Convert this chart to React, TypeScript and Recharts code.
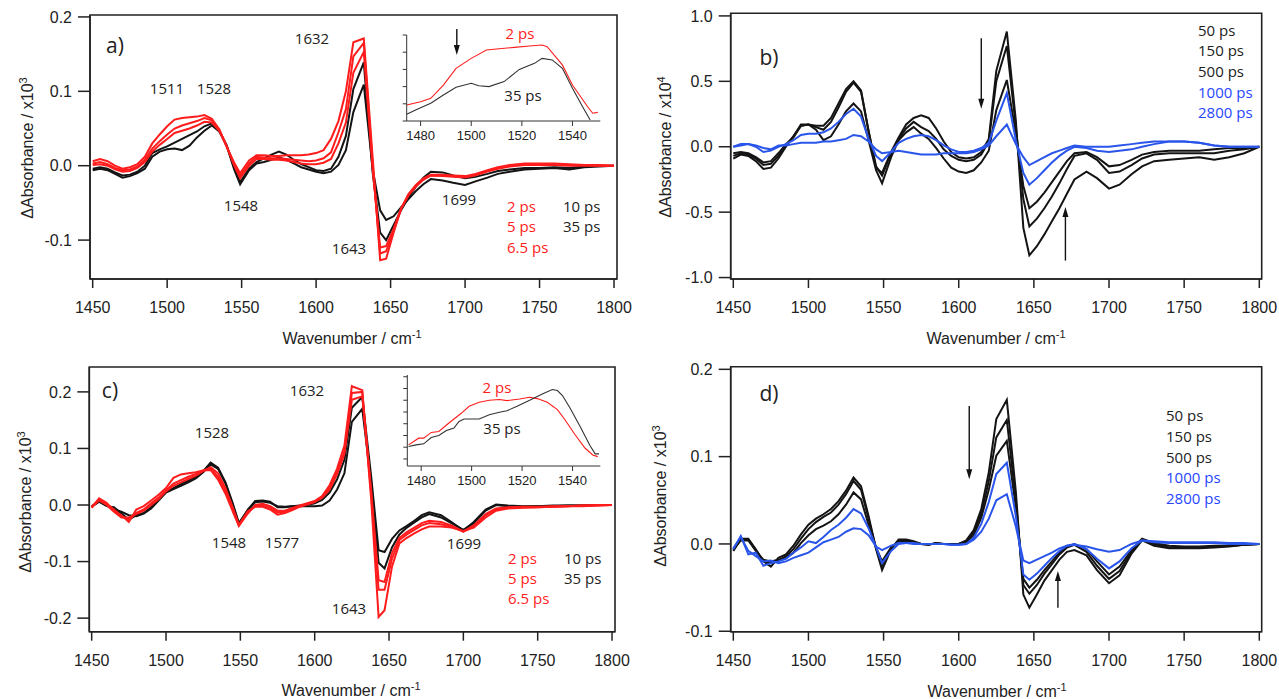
import React from 'react';
import { LineChart, Line, XAxis, YAxis, ReferenceArea, ReferenceLine } from 'recharts';

// ---------- shared axis values ----------
const wavenumbers = [
  1450, 1455, 1460, 1465, 1470, 1475, 1480, 1485, 1490, 1495,
  1500, 1505, 1510, 1515, 1520, 1525, 1530, 1535, 1540, 1545,
  1549, 1555, 1560, 1565, 1570, 1575, 1580, 1585, 1590, 1595,
  1600, 1605, 1610, 1615, 1620, 1625, 1632, 1638, 1643, 1647,
  1652, 1657, 1662, 1667, 1672, 1677, 1685, 1692, 1700, 1707,
  1715, 1722, 1730, 1740, 1750, 1760, 1770, 1780, 1790, 1800,
];
const xTicks = [1450, 1500, 1550, 1600, 1650, 1700, 1750, 1800];
const insetXTicks = [1480, 1500, 1520, 1540];
const earlyDelays = ['2 ps', '5 ps', '6.5 ps', '10 ps', '35 ps'];
const lateDelays = ['50 ps', '150 ps', '500 ps', '1000 ps', '2800 ps'];

// ---------- panel a (x10^3) ----------
const a2ps = [0.006, 0.009, 0.006, 0.0, -0.004, -0.002, 0.002, 0.012, 0.03, 0.042,
  0.053, 0.062, 0.064, 0.065, 0.066, 0.068, 0.063, 0.049, 0.025, 0.004,
  -0.01, 0.007, 0.014, 0.014, 0.013, 0.013, 0.014, 0.014, 0.014, 0.015,
  0.017, 0.021, 0.036, 0.06, 0.1, 0.166, 0.171, 0.01, -0.127, -0.125,
  -0.09, -0.058, -0.038, -0.026, -0.017, -0.012, -0.012, -0.013, -0.014, -0.011,
  -0.006, -0.002, 0.001, 0.003, 0.003, 0.003, 0.002, 0.001, 0.001, 0.0];
const a5ps = [0.003, 0.005, 0.002, -0.003, -0.006, -0.005, -0.001, 0.008, 0.023, 0.033,
  0.042, 0.05, 0.054, 0.057, 0.06, 0.064, 0.061, 0.048, 0.026, 0.002,
  -0.014, 0.003, 0.012, 0.011, 0.01, 0.01, 0.009, 0.008, 0.007, 0.006,
  0.007, 0.01, 0.018, 0.045, 0.076, 0.147, 0.165, 0.0, -0.118, -0.115,
  -0.088, -0.058, -0.039, -0.027, -0.018, -0.013, -0.013, -0.014, -0.015, -0.012,
  -0.007, -0.003, 0.0, 0.002, 0.002, 0.002, 0.001, 0.001, 0.0, 0.0];
const a6p5ps = [0.001, 0.002, 0.0, -0.005, -0.008, -0.007, -0.003, 0.005, 0.019, 0.028,
  0.036, 0.044, 0.047, 0.05, 0.054, 0.059, 0.058, 0.047, 0.026, 0.0,
  -0.017, 0.0, 0.009, 0.009, 0.008, 0.008, 0.007, 0.005, 0.003, 0.002,
  0.002, 0.004, 0.009, 0.03, 0.058, 0.125, 0.153, -0.005, -0.11, -0.108,
  -0.085, -0.058, -0.04, -0.028, -0.019, -0.013, -0.014, -0.015, -0.016, -0.013,
  -0.008, -0.004, -0.001, 0.001, 0.001, 0.001, 0.0, 0.0, 0.0, 0.0];
const a10ps = [-0.004, -0.002, -0.004, -0.009, -0.013, -0.012, -0.008, 0.0, 0.017, 0.022,
  0.026, 0.031, 0.036, 0.041, 0.046, 0.053, 0.057, 0.047, 0.027, -0.003,
  -0.022, -0.004, 0.005, 0.01, 0.015, 0.019, 0.015, 0.008, 0.002, -0.002,
  -0.006, -0.007, -0.004, 0.012, 0.04, 0.103, 0.139, -0.01, -0.09, -0.1,
  -0.08, -0.06, -0.043, -0.028, -0.016, -0.008, -0.009, -0.013, -0.017, -0.015,
  -0.011, -0.007, -0.005, -0.003, -0.003, -0.002, -0.003, -0.001, 0.0, 0.0];
const a35ps = [-0.006, -0.004, -0.006, -0.011, -0.016, -0.014, -0.01, -0.004, 0.012, 0.019,
  0.022, 0.023, 0.021, 0.027, 0.038, 0.047, 0.054, 0.046, 0.027, -0.005,
  -0.025, -0.006, 0.003, 0.005, 0.008, 0.011, 0.008, 0.003, -0.002, -0.005,
  -0.008, -0.01, -0.008, 0.001, 0.021, 0.072, 0.109, -0.005, -0.06, -0.073,
  -0.068, -0.056, -0.045, -0.034, -0.025, -0.018, -0.02, -0.023, -0.026, -0.021,
  -0.016, -0.011, -0.008, -0.005, -0.004, -0.003, -0.005, -0.002, -0.001, 0.0];

// ---------- panel b (x10^4) ----------
const b50ps = [-0.09, -0.06, -0.07, -0.11, -0.17, -0.16, -0.09, 0.0, 0.08, 0.16,
  0.17, 0.13, 0.05, 0.08, 0.17, 0.27, 0.33, 0.27, 0.05, -0.18,
  -0.28, -0.08, 0.05, 0.11, 0.15, 0.1, 0.06, -0.01, -0.09, -0.16,
  -0.19, -0.2, -0.18, -0.12, -0.03, 0.28, 0.51, 0.1, -0.3, -0.47,
  -0.42, -0.35, -0.27, -0.19, -0.11, -0.05, -0.04, -0.08, -0.15, -0.14,
  -0.1, -0.06, -0.04, -0.03, -0.03, -0.03, -0.02, -0.01, -0.01, 0.0];
const b150ps = [-0.07, -0.05, -0.06, -0.09, -0.14, -0.13, -0.07, 0.01, 0.08, 0.17,
  0.17, 0.15, 0.13, 0.19, 0.3, 0.42, 0.49, 0.42, 0.12, -0.15,
  -0.22, -0.05, 0.06, 0.14, 0.19, 0.15, 0.12, 0.06, -0.02, -0.07,
  -0.1, -0.11, -0.1, -0.06, 0.04, 0.5, 0.77, 0.15, -0.4, -0.61,
  -0.55, -0.47, -0.38, -0.28, -0.17, -0.07, -0.05, -0.1, -0.2, -0.19,
  -0.14, -0.09, -0.06, -0.05, -0.05, -0.05, -0.05, -0.03, -0.02, 0.0];
const b500ps = [-0.05, -0.04, -0.05, -0.08, -0.12, -0.11, -0.05, 0.02, 0.07, 0.16,
  0.17, 0.16, 0.16, 0.22, 0.33, 0.44, 0.5, 0.43, 0.12, -0.16,
  -0.2, -0.04, 0.07, 0.17, 0.22, 0.24, 0.22, 0.14, 0.04, -0.04,
  -0.08, -0.09, -0.08, -0.04, 0.06, 0.58, 0.88, 0.2, -0.62, -0.83,
  -0.76, -0.67, -0.57, -0.47, -0.36, -0.25, -0.19, -0.24, -0.32, -0.29,
  -0.21, -0.15, -0.11, -0.1, -0.09, -0.08, -0.1, -0.08, -0.05, 0.0];
const b1000ps = [0.0, 0.02, 0.02, 0.0, -0.04, -0.03, 0.0, 0.02, 0.05, 0.09,
  0.1, 0.1, 0.11, 0.14, 0.19, 0.25, 0.29, 0.23, 0.06, -0.07,
  -0.11, -0.04, 0.03, 0.06, 0.08, 0.09, 0.08, 0.05, 0.01, -0.02,
  -0.04, -0.04, -0.03, -0.01, 0.03, 0.2, 0.41, 0.05, -0.2, -0.29,
  -0.24, -0.18, -0.12, -0.07, -0.03, 0.0, -0.01, -0.03, -0.04, -0.03,
  -0.02, 0.0, 0.02, 0.04, 0.04, 0.03, 0.01, 0.0, 0.0, 0.0];
const b2800ps = [0.0, 0.01, 0.02, 0.01, -0.01, -0.02, 0.01, 0.01, 0.02, 0.03,
  0.03, 0.03, 0.04, 0.04, 0.05, 0.06, 0.09, 0.08, 0.04, -0.02,
  -0.05, -0.04, -0.03, -0.04, -0.05, -0.06, -0.06, -0.06, -0.05, -0.05,
  -0.05, -0.05, -0.04, -0.02, 0.01, 0.08, 0.17, 0.02, -0.08, -0.14,
  -0.11, -0.08, -0.05, -0.03, -0.01, 0.01, 0.0, 0.0, 0.0, 0.01,
  0.02, 0.03, 0.04, 0.04, 0.04, 0.03, 0.01, 0.0, 0.0, 0.0];

// ---------- panel c (x10^3) ----------
const c2ps = [-0.005, 0.012, 0.004, -0.01, -0.018, -0.03, -0.008, -0.002, 0.008, 0.018,
  0.03, 0.048, 0.054, 0.056, 0.058, 0.061, 0.062, 0.045, 0.02, -0.012,
  -0.037, -0.015, 0.0, 0.002, -0.002, -0.01, -0.01, -0.005, -0.001, 0.003,
  0.007, 0.016, 0.035, 0.064, 0.105, 0.21, 0.203, 0.01, -0.198, -0.186,
  -0.109, -0.068, -0.058, -0.05, -0.043, -0.038, -0.038, -0.04, -0.046, -0.04,
  -0.022, -0.01, -0.006, -0.005, -0.004, -0.003, -0.002, -0.002, -0.001, 0.0];
const c5ps = [-0.003, 0.01, 0.002, -0.008, -0.02, -0.026, -0.014, -0.008, 0.003, 0.013,
  0.026, 0.038, 0.044, 0.05, 0.055, 0.061, 0.065, 0.05, 0.025, -0.008,
  -0.036, -0.013, -0.002, 0.0, -0.005, -0.013, -0.012, -0.007, -0.002, 0.002,
  0.006, 0.014, 0.03, 0.058, 0.095, 0.198, 0.2, 0.02, -0.15, -0.15,
  -0.095, -0.062, -0.052, -0.044, -0.036, -0.032, -0.034, -0.038, -0.047, -0.038,
  -0.018, -0.008, -0.005, -0.004, -0.004, -0.003, -0.002, -0.001, -0.001, 0.0];
const c6p5ps = [-0.004, 0.008, 0.0, -0.012, -0.022, -0.022, -0.016, -0.01, 0.0, 0.01,
  0.024, 0.034, 0.04, 0.046, 0.052, 0.06, 0.067, 0.056, 0.03, -0.005,
  -0.035, -0.011, -0.003, -0.003, -0.008, -0.017, -0.014, -0.009, -0.003, 0.001,
  0.005, 0.013, 0.027, 0.054, 0.09, 0.186, 0.192, 0.025, -0.133, -0.136,
  -0.085, -0.058, -0.048, -0.04, -0.032, -0.028, -0.03, -0.036, -0.047, -0.036,
  -0.016, -0.006, -0.004, -0.003, -0.003, -0.002, -0.002, -0.001, 0.0, 0.0];
const c10ps = [-0.003, 0.006, -0.002, -0.004, -0.015, -0.026, -0.018, -0.014, -0.004, 0.01,
  0.024, 0.03, 0.037, 0.043, 0.05, 0.06, 0.075, 0.066, 0.04, 0.002,
  -0.033, -0.008, 0.007, 0.008, 0.006, -0.004, -0.004, -0.002, -0.001, 0.0,
  0.003, 0.009, 0.022, 0.045, 0.08, 0.172, 0.191, 0.05, -0.08, -0.083,
  -0.06, -0.045, -0.037, -0.028, -0.018, -0.013, -0.018, -0.03, -0.045, -0.03,
  -0.008, 0.001, -0.001, -0.002, -0.002, -0.001, -0.001, -0.001, 0.0, 0.0];
const c35ps = [-0.002, 0.006, 0.0, -0.008, -0.012, -0.018, -0.02, -0.015, -0.006, 0.008,
  0.022, 0.028, 0.034, 0.04, 0.047, 0.058, 0.072, 0.064, 0.038, 0.0,
  -0.032, -0.01, 0.005, 0.006, 0.004, -0.002, -0.003, -0.002, -0.002, -0.002,
  -0.002, -0.001, 0.008, 0.027, 0.056, 0.147, 0.17, 0.04, -0.102, -0.112,
  -0.075, -0.052, -0.04, -0.031, -0.022, -0.016, -0.022, -0.032, -0.044, -0.032,
  -0.01, 0.0, -0.002, -0.003, -0.002, -0.002, -0.001, -0.001, 0.0, 0.0];

// ---------- panel d (x10^3) ----------
const d50ps = [-0.008, 0.006, 0.006, -0.006, -0.02, -0.026, -0.016, -0.012, -0.002, 0.011,
  0.022, 0.029, 0.034, 0.04, 0.049, 0.061, 0.076, 0.066, 0.032, -0.006,
  -0.03, -0.006, 0.005, 0.005, 0.003, 0.0, -0.001, 0.001, 0.0, 0.0,
  0.0, 0.004, 0.016, 0.04, 0.082, 0.143, 0.165, 0.06, -0.058, -0.073,
  -0.058, -0.042, -0.03, -0.018, -0.009, -0.007, -0.013, -0.03, -0.045, -0.036,
  -0.011, 0.004, -0.002, -0.005, -0.005, -0.005, -0.004, -0.003, -0.001, 0.0];
const d150ps = [-0.007, 0.005, 0.005, -0.007, -0.02, -0.022, -0.019, -0.014, -0.006, 0.006,
  0.017, 0.025, 0.031, 0.036, 0.045, 0.057, 0.072, 0.062, 0.029, -0.005,
  -0.025, -0.005, 0.004, 0.004, 0.002, 0.0, -0.001, 0.001, 0.0, 0.0,
  0.0, 0.003, 0.013, 0.035, 0.072, 0.122, 0.142, 0.05, -0.047, -0.057,
  -0.047, -0.034, -0.023, -0.012, -0.004, -0.001, -0.009, -0.025, -0.04, -0.031,
  -0.009, 0.005, 0.0, -0.004, -0.004, -0.004, -0.003, -0.002, -0.001, 0.0];
const d500ps = [-0.006, 0.004, 0.004, -0.008, -0.018, -0.02, -0.018, -0.016, -0.01, 0.001,
  0.01, 0.017, 0.021, 0.026, 0.034, 0.045, 0.059, 0.051, 0.022, -0.004,
  -0.02, -0.004, 0.003, 0.003, 0.002, 0.0, 0.0, 0.0, 0.0, 0.0,
  0.0, 0.002, 0.01, 0.03, 0.062, 0.101, 0.118, 0.042, -0.04, -0.05,
  -0.041, -0.03, -0.02, -0.01, -0.003, 0.0, -0.006, -0.02, -0.035, -0.026,
  -0.007, 0.006, 0.001, -0.002, -0.003, -0.003, -0.002, -0.002, -0.001, 0.0];
const d1000ps = [-0.006, 0.009, -0.012, -0.01, -0.025, -0.022, -0.02, -0.017, -0.01, -0.004,
  0.003, 0.001, 0.008, 0.016, 0.022, 0.03, 0.04, 0.035, 0.018, -0.004,
  -0.022, -0.008, 0.0, 0.001, 0.001, 0.0, 0.0, 0.0, 0.0, -0.001,
  -0.001, 0.0, 0.007, 0.023, 0.048, 0.08, 0.093, 0.032, -0.035, -0.041,
  -0.034, -0.025, -0.016, -0.008, -0.002, 0.0, -0.006, -0.017, -0.028, -0.02,
  -0.005, 0.004, 0.002, 0.001, 0.001, 0.001, 0.001, 0.0, 0.0, 0.0];
const d2800ps = [-0.005, 0.008, -0.008, -0.014, -0.02, -0.019, -0.022, -0.02, -0.016, -0.013,
  -0.01, -0.004, 0.002, 0.005, 0.008, 0.014, 0.018, 0.017, 0.01, -0.003,
  -0.007, -0.002, 0.001, 0.001, 0.0, 0.0, 0.0, 0.0, 0.0, -0.001,
  -0.001, 0.0, 0.005, 0.014, 0.029, 0.05, 0.057, 0.02, -0.019, -0.022,
  -0.018, -0.014, -0.01, -0.005, -0.002, -0.001, -0.003, -0.006, -0.009, -0.007,
  0.0, 0.004, 0.003, 0.002, 0.002, 0.002, 0.002, 0.001, 0.001, 0.0];

// ---------- insets (arbitrary units) ----------
const insetAWn2ps = [1474.5, 1480, 1484, 1489, 1494, 1500, 1506, 1511, 1517, 1523, 1528, 1530, 1536, 1540, 1546, 1548, 1550];
const insetA2ps = [0.93, 1.12, 1.32, 2.09, 3.06, 3.64, 4.13, 4.2, 4.28, 4.36, 4.42, 4.32, 3.26, 2.09, 0.83, 0.45, 0.5];
const insetAWn35ps = [1474.5, 1478, 1484, 1489, 1494, 1500, 1503, 1507, 1513, 1519, 1525, 1528, 1532, 1536, 1540, 1544, 1547];
const insetA35ps = [0.39, 0.64, 1.03, 1.51, 1.96, 2.19, 2.05, 2.0, 2.29, 3.0, 3.35, 3.64, 3.55, 3.06, 1.9, 0.83, 0.06];

const insetCWn2ps = [1475, 1479, 1481, 1484, 1487, 1491, 1496, 1499, 1503, 1507, 1511, 1514, 1519, 1523, 1526, 1530, 1534, 1537, 1541, 1545, 1548, 1550];
const insetC2ps = [1.2, 1.77, 1.77, 2.26, 2.34, 3.06, 3.91, 4.49, 4.83, 5.0, 5.06, 4.97, 5.11, 5.26, 5.14, 4.83, 4.2, 3.34, 2.06, 0.91, 0.34, 0.2];
const insetCWn35ps = [1475, 1478, 1481, 1484, 1487, 1490, 1493, 1495, 1497, 1499, 1503, 1507, 1511, 1514, 1518, 1523, 1528, 1532, 1534, 1536, 1539, 1543, 1547, 1549, 1550.5];
const insetC35ps = [1.06, 1.2, 1.29, 1.83, 2.0, 2.43, 2.63, 3.2, 3.4, 3.4, 3.4, 3.77, 3.97, 4.11, 4.49, 5.0, 5.54, 5.91, 5.83, 5.4, 4.34, 2.77, 1.11, 0.43, 0.43];

// ---------- styling ----------
const RED = '#ff1c1c';
const BLACK = '#141414';
const BLUE = '#2a55ea';
const BLUE_TEXT = '#2746ff';
const AXIS_COLOR = '#222';
const AXIS_FONT = '"Liberation Sans", Arial, sans-serif';
const NOTE_FONT = '"Open Sans", sans-serif';

type Series = { key: string; values: number[]; color: string };
type ArrowSpec = { x: number; from: number; to: number };

function buildRows(series: Series[]) {
  return wavenumbers.map((w, i) => {
    const row: Record<string, number> = { w };
    series.forEach((s) => {
      row[s.key] = s.values[i];
    });
    return row;
  });
}

function pairRows(xs: number[], ys: number[]) {
  return xs.map((x, i) => ({ x, y: ys[i] }));
}

const ArrowShape = (props: any) => {
  const { x1, y1, x2, y2 } = props;
  const dir = y2 > y1 ? 1 : -1;
  const headLen = 10;
  const headHalf = 3;
  return (
    <g>
      <line x1={x1} y1={y1} x2={x2} y2={y2 - dir * headLen * 0.7} stroke="#111" strokeWidth={1.4} />
      <polygon
        points={`${x2},${y2} ${x2 - headHalf},${y2 - dir * headLen} ${x2 + headHalf},${y2 - dir * headLen}`}
        fill="#111"
      />
    </g>
  );
};

const axisTick = { fontSize: 16, fill: AXIS_COLOR, fontFamily: AXIS_FONT };

function MainPanel(props: {
  left: number;
  top: number;
  width: number;
  height: number;
  margin: { top: number; right: number; bottom: number; left: number };
  xDomain: [number, number];
  yDomain: [number, number];
  yTicks: number[];
  series: Series[];
  arrows: ArrowSpec[];
}) {
  const { left, top, width, height, margin, xDomain, yDomain, yTicks, series, arrows } = props;
  const data = buildRows(series);
  return (
    <div style={{ position: 'absolute', left, top }}>
      <LineChart width={width} height={height} data={data} margin={margin}>
        <XAxis
          dataKey="w"
          type="number"
          domain={xDomain}
          ticks={xTicks}
          interval={0}
          allowDataOverflow
          height={30}
          tickSize={9}
          tickMargin={14}
          tick={axisTick}
          stroke={AXIS_COLOR}
          strokeWidth={1.5}
        />
        <YAxis
          type="number"
          domain={yDomain}
          ticks={yTicks}
          interval={0}
          allowDataOverflow
          width={40}
          tickSize={12}
          tickMargin={6}
          tick={axisTick}
          tickFormatter={(v: number) => v.toFixed(1)}
          stroke={AXIS_COLOR}
          strokeWidth={1.5}
        />
        <ReferenceArea
          x1={xDomain[0]}
          x2={xDomain[1]}
          y1={yDomain[0]}
          y2={yDomain[1]}
          fill="none"
          fillOpacity={0}
          stroke={AXIS_COLOR}
          strokeWidth={1.6}
          ifOverflow="visible"
        />
        {series.map((s) => (
          <Line
            key={s.key}
            dataKey={s.key}
            type="linear"
            stroke={s.color}
            strokeWidth={2}
            dot={false}
            isAnimationActive={false}
          />
        ))}
        {arrows.map((a, i) => (
          <ReferenceLine
            key={i}
            segment={[{ x: a.x, y: a.from }, { x: a.x, y: a.to }]}
            shape={ArrowShape}
            ifOverflow="visible"
          />
        ))}
      </LineChart>
    </div>
  );
}

function InsetPanel(props: {
  left: number;
  top: number;
  margin: { top: number; right: number; bottom: number; left: number };
  yDomain: [number, number];
  yTicks: number[];
  red: { x: number; y: number }[];
  black: { x: number; y: number }[];
  arrow?: ArrowSpec;
}) {
  const { left, top, margin, yDomain, yTicks, red, black, arrow } = props;
  return (
    <div style={{ position: 'absolute', left, top }}>
      <LineChart width={260} height={160} margin={margin}>
        <XAxis
          dataKey="x"
          type="number"
          domain={[1474.5, 1551]}
          ticks={insetXTicks}
          interval={0}
          allowDataOverflow
          height={25}
          tickSize={5}
          tickMargin={5}
          tick={{ fontSize: 13, fill: AXIS_COLOR, fontFamily: AXIS_FONT }}
          stroke="#333"
        />
        <YAxis
          type="number"
          domain={yDomain}
          ticks={yTicks}
          interval={0}
          allowDataOverflow
          width={10}
          tickSize={4}
          tickMargin={2}
          tickFormatter={() => ''}
          stroke="#333"
        />
        <Line data={red} dataKey="y" type="linear" stroke={RED} strokeWidth={1.1} dot={false} isAnimationActive={false} />
        <Line data={black} dataKey="y" type="linear" stroke="#333" strokeWidth={1.1} dot={false} isAnimationActive={false} />
        {arrow ? (
          <ReferenceLine
            segment={[{ x: arrow.x, y: arrow.from }, { x: arrow.x, y: arrow.to }]}
            shape={ArrowShape}
            ifOverflow="visible"
          />
        ) : null}
      </LineChart>
    </div>
  );
}

function Note(props: {
  x: number;
  y: number;
  children: React.ReactNode;
  color?: string;
  size?: number;
  align?: 'center' | 'left';
}) {
  const { x, y, children, color = '#222', size = 15, align = 'center' } = props;
  return (
    <div
      style={{
        position: 'absolute',
        left: x,
        top: y,
        transform: align === 'center' ? 'translate(-50%,-50%)' : 'translate(0,-50%)',
        color,
        fontSize: size,
        fontFamily: NOTE_FONT,
        lineHeight: 1,
        whiteSpace: 'nowrap',
      }}
    >
      {children}
    </div>
  );
}

function YTitle(props: { x: number; y: number; power: string }) {
  return (
    <div
      style={{
        position: 'absolute',
        left: props.x,
        top: props.y,
        transform: 'translate(-50%,-50%) rotate(-90deg)',
        fontFamily: AXIS_FONT,
        fontSize: 16,
        color: AXIS_COLOR,
        whiteSpace: 'nowrap',
        lineHeight: 1,
      }}
    >
      ΔAbsorbance / x10<sup style={{ fontSize: 11, verticalAlign: 'super' }}>{props.power}</sup>
    </div>
  );
}

function XTitle(props: { x: number; y: number }) {
  return (
    <div
      style={{
        position: 'absolute',
        left: props.x,
        top: props.y,
        transform: 'translate(-50%,-50%)',
        fontFamily: AXIS_FONT,
        fontSize: 16,
        color: AXIS_COLOR,
        whiteSpace: 'nowrap',
        lineHeight: 1,
      }}
    >
      Wavenumber / cm<sup style={{ fontSize: 11, verticalAlign: 'super' }}>-1</sup>
    </div>
  );
}

export default function App() {
  const seriesA: Series[] = [
    { key: 'a35', values: a35ps, color: BLACK },
    { key: 'a10', values: a10ps, color: BLACK },
    { key: 'a65', values: a6p5ps, color: RED },
    { key: 'a5', values: a5ps, color: RED },
    { key: 'a2', values: a2ps, color: RED },
  ];
  const seriesB: Series[] = [
    { key: 'b50', values: b50ps, color: BLACK },
    { key: 'b150', values: b150ps, color: BLACK },
    { key: 'b500', values: b500ps, color: BLACK },
    { key: 'b1000', values: b1000ps, color: BLUE },
    { key: 'b2800', values: b2800ps, color: BLUE },
  ];
  const seriesC: Series[] = [
    { key: 'c35', values: c35ps, color: BLACK },
    { key: 'c10', values: c10ps, color: BLACK },
    { key: 'c65', values: c6p5ps, color: RED },
    { key: 'c5', values: c5ps, color: RED },
    { key: 'c2', values: c2ps, color: RED },
  ];
  const seriesD: Series[] = [
    { key: 'd50', values: d50ps, color: BLACK },
    { key: 'd150', values: d150ps, color: BLACK },
    { key: 'd500', values: d500ps, color: BLACK },
    { key: 'd1000', values: d1000ps, color: BLUE },
    { key: 'd2800', values: d2800ps, color: BLUE },
  ];

  return (
    <div
      style={{
        position: 'absolute',
        left: 0,
        top: 0,
        width: 1279,
        height: 699,
        background: '#fff',
        overflow: 'hidden',
      }}
    >
      {/* panel a */}
      <MainPanel
        left={0}
        top={0}
        width={640}
        height={345}
        margin={{ top: 15, right: 23, bottom: 36, left: 50 }}
        xDomain={[1448.2, 1802]}
        yDomain={[-0.1523, 0.2026]}
        yTicks={[-0.1, 0, 0.1, 0.2]}
        series={seriesA}
        arrows={[]}
      />
      {/* panel b */}
      <MainPanel
        left={640}
        top={0}
        width={639}
        height={345}
        margin={{ top: 13.3, right: 17.3, bottom: 36, left: 50.7 }}
        xDomain={[1448.27, 1801.6]}
        yDomain={[-1.011, 1.02]}
        yTicks={[-1, -0.5, 0, 0.5, 1]}
        series={seriesB}
        arrows={[
          { x: 1615, from: 0.83, to: 0.29 },
          { x: 1671, from: -0.87, to: -0.46 },
        ]}
      />
      {/* panel c */}
      <MainPanel
        left={0}
        top={350}
        width={640}
        height={349}
        margin={{ top: 17, right: 25, bottom: 37.3, left: 49.3 }}
        xDomain={[1448.4, 1802]}
        yDomain={[-0.224, 0.244]}
        yTicks={[-0.2, -0.1, 0, 0.1, 0.2]}
        series={seriesC}
        arrows={[]}
      />
      {/* panel d */}
      <MainPanel
        left={640}
        top={350}
        width={639}
        height={349}
        margin={{ top: 16.7, right: 17.3, bottom: 37.3, left: 50.7 }}
        xDomain={[1448.27, 1801.6]}
        yDomain={[-0.1005, 0.203]}
        yTicks={[-0.1, 0, 0.1, 0.2]}
        series={seriesD}
        arrows={[
          { x: 1607, from: 0.158, to: 0.074 },
          { x: 1666, from: -0.073, to: -0.031 },
        ]}
      />

      {/* insets */}
      <InsetPanel
        left={360}
        top={0}
        margin={{ top: 35, right: 19.7, bottom: 14, left: 36.7 }}
        yDomain={[0, 5]}
        yTicks={[0, 1, 2, 3, 4, 5]}
        red={pairRows(insetAWn2ps, insetA2ps)}
        black={pairRows(insetAWn35ps, insetA35ps)}
        arrow={{ x: 1494.3, from: 5.35, to: 3.84 }}
      />
      <InsetPanel
        left={360}
        top={355}
        margin={{ top: 20, right: 19.7, bottom: 24, left: 37.3 }}
        yDomain={[-0.6, 7.15]}
        yTicks={[0, 1, 2, 3, 4, 5, 6, 7]}
        red={pairRows(insetCWn2ps, insetC2ps)}
        black={pairRows(insetCWn35ps, insetC35ps)}
      />

      {/* axis titles */}
      <YTitle x={27} y={148} power="3" />
      <YTitle x={665} y={147} power="4" />
      <YTitle x={25} y={502} power="3" />
      <YTitle x={660} y={496} power="3" />
      <XTitle x={352} y={338} />
      <XTitle x={996} y={338} />
      <XTitle x={351} y={690} />
      <XTitle x={997} y={691} />

      {/* panel a notes */}
      <Note x={115} y={45} size={21}>a)</Note>
      <Note x={312} y={38}>1632</Note>
      <Note x={167} y={88}>1511</Note>
      <Note x={214} y={88}>1528</Note>
      <Note x={241} y={205}>1548</Note>
      <Note x={349} y={248}>1643</Note>
      <Note x={459} y={199}>1699</Note>
      <Note x={507} y={206} color={RED} align="left">{earlyDelays[0]}</Note>
      <Note x={507} y={226} color={RED} align="left">{earlyDelays[1]}</Note>
      <Note x={507} y={247} color={RED} align="left">{earlyDelays[2]}</Note>
      <Note x={563} y={206} align="left">{earlyDelays[3]}</Note>
      <Note x={563} y={226} align="left">{earlyDelays[4]}</Note>
      <Note x={520} y={33} color={RED}>{earlyDelays[0]}</Note>
      <Note x={523} y={95}>{earlyDelays[4]}</Note>

      {/* panel b notes */}
      <Note x={769} y={57} size={21}>b)</Note>
      <Note x={1198} y={30} align="left">{lateDelays[0]}</Note>
      <Note x={1198} y={50} align="left">{lateDelays[1]}</Note>
      <Note x={1198} y={71} align="left">{lateDelays[2]}</Note>
      <Note x={1198} y={92} align="left" color={BLUE_TEXT}>{lateDelays[3]}</Note>
      <Note x={1198} y={112} align="left" color={BLUE_TEXT}>{lateDelays[4]}</Note>

      {/* panel c notes */}
      <Note x={110} y={390} size={21}>c)</Note>
      <Note x={307} y={390}>1632</Note>
      <Note x={212} y={432}>1528</Note>
      <Note x={229} y={542}>1548</Note>
      <Note x={282} y={542}>1577</Note>
      <Note x={349} y={608}>1643</Note>
      <Note x={464} y={543}>1699</Note>
      <Note x={508} y={558} color={RED} align="left">{earlyDelays[0]}</Note>
      <Note x={508} y={578} color={RED} align="left">{earlyDelays[1]}</Note>
      <Note x={508} y={598} color={RED} align="left">{earlyDelays[2]}</Note>
      <Note x={564} y={558} align="left">{earlyDelays[3]}</Note>
      <Note x={564} y={578} align="left">{earlyDelays[4]}</Note>
      <Note x={497} y={387} color={RED}>{earlyDelays[0]}</Note>
      <Note x={502} y={428}>{earlyDelays[4]}</Note>

      {/* panel d notes */}
      <Note x={769} y={393} size={21}>d)</Note>
      <Note x={1166} y={415} align="left">{lateDelays[0]}</Note>
      <Note x={1166} y={436} align="left">{lateDelays[1]}</Note>
      <Note x={1166} y={457} align="left">{lateDelays[2]}</Note>
      <Note x={1166} y={477} align="left" color={BLUE_TEXT}>{lateDelays[3]}</Note>
      <Note x={1166} y={498} align="left" color={BLUE_TEXT}>{lateDelays[4]}</Note>
    </div>
  );
}
